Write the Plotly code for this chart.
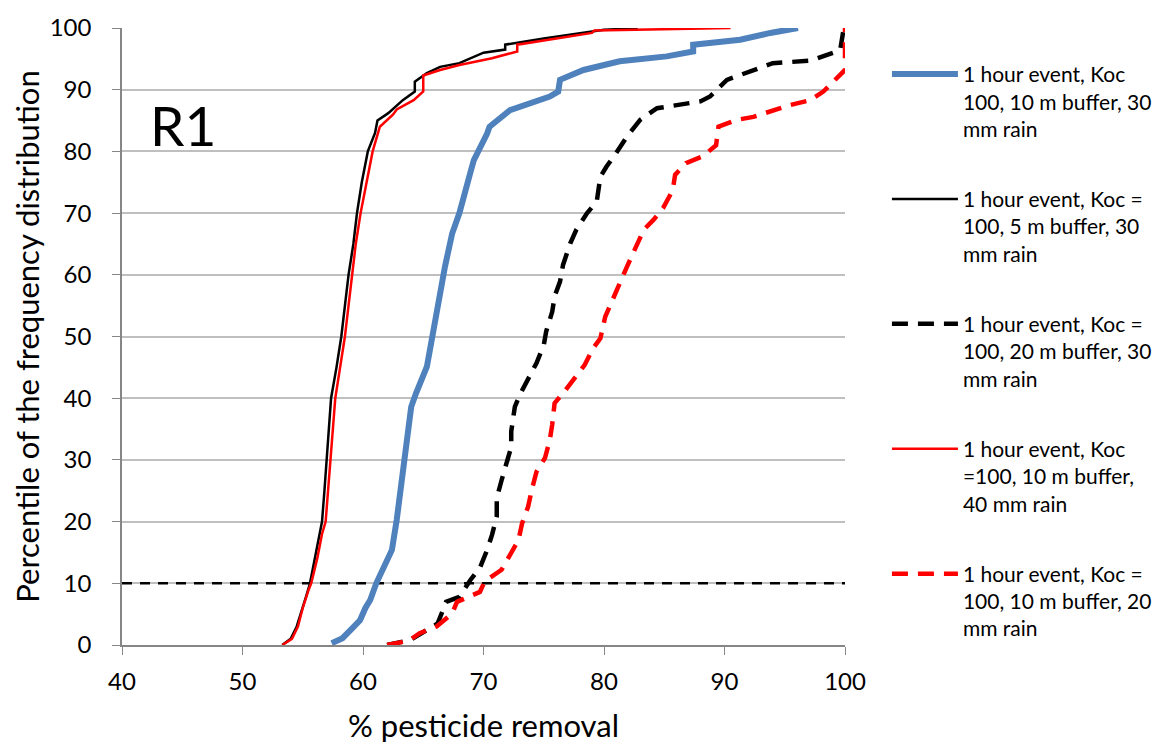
import plotly.graph_objects as go

# ---- data ----
blue_x = [57.4, 58.3, 59.0, 59.75, 60.2, 60.6, 61.1, 61.8, 62.4, 62.8, 63.2, 63.6, 64.0, 64.4, 65.3, 65.8, 66.25, 66.8, 67.4, 68.0, 68.9, 69.2, 70.3, 70.5, 72.2, 75.5, 76.2, 76.35, 78.3, 81.3, 85.2, 87.4, 87.4, 91.3, 93.8, 96.1]
blue_y = [0.3, 1.1, 2.5, 4, 6, 7.3, 10, 13, 15.4, 20.3, 26.2, 31.1, 38.6, 40.8, 45.1, 50.5, 55.9, 61.3, 66.7, 70, 76.5, 78.6, 82.9, 84, 86.7, 88.9, 89.7, 91.6, 93.2, 94.6, 95.4, 96.2, 97.3, 98.1, 99.2, 100]

black_x = [53.3, 54.0, 54.5, 55.0, 55.3, 55.6, 56.0, 56.4, 56.6, 56.8, 57.0, 57.2, 57.35, 57.8, 58.2, 58.5, 58.8, 59.2, 59.5, 59.9, 60.4, 61.0, 61.2, 62.1, 63.3, 64.3, 64.3, 65.3, 66.4, 68.0, 70.0, 71.8, 71.8, 75.0, 78.0, 80.0, 82.8]
black_y = [0, 1, 3, 6, 8, 10, 14, 18, 20, 25, 30, 35, 40, 45, 50, 55, 60, 65, 70, 75, 80, 83, 85, 86.2, 88.3, 89.7, 91.3, 92.7, 93.7, 94.3, 96, 96.5, 97.3, 98.3, 99.2, 99.7, 100]

blackd_x = [62.0, 63.9, 64.5, 66.2, 66.9, 68.0, 68.9, 69.7, 70.3, 70.7, 71.1, 71.1, 71.5, 71.9, 72.3, 72.3, 72.6, 73.0, 73.7, 74.4, 75.0, 75.2, 75.7, 75.9, 76.35, 76.6, 77.2, 77.7, 78.6, 79.4, 79.7, 80.2, 81.0, 81.9, 83.0, 84.4, 88.0, 88.8, 90.2, 92.7, 94.0, 97.1, 98.8, 99.6, 99.9]
blackd_y = [0, 0.8, 1.5, 3.5, 7.0, 7.8, 10.5, 12.5, 15.4, 17.8, 20.8, 23.8, 26.7, 29.2, 32.1, 34.6, 38.6, 40.5, 43.2, 45.7, 48.6, 50.8, 54.0, 56.5, 58.9, 61.6, 65.1, 67.3, 70, 71.9, 75.9, 77.5, 79.7, 82.4, 85.1, 87, 88.1, 88.9, 91.6, 93.4, 94.3, 94.7, 95.9, 96.4, 100]

red_x = [53.3, 54.1, 54.6, 55.0, 55.5, 55.7, 56.2, 56.6, 56.9, 57.1, 57.3, 57.5, 57.7, 58.1, 58.5, 58.8, 59.1, 59.4, 59.8, 60.3, 60.8, 61.4, 62.5, 62.8, 64.2, 65.0, 65.0, 66.4, 68.0, 70.7, 72.8, 72.8, 76.0, 79.0, 79.2, 85.0, 90.5]
red_y = [0, 1, 3, 6, 9, 10, 14, 18, 20, 25, 30, 35, 40, 45, 50, 55, 60, 65, 70, 75, 80, 84, 86, 86.8, 88.3, 89.7, 92.3, 93.2, 94, 95.1, 96.2, 97.3, 98.3, 99.2, 99.6, 99.8, 100]

redd_x = [62.0, 63.8, 64.7, 66.1, 67.4, 67.8, 69.7, 70.1, 71.5, 72.1, 72.9, 73.2, 73.7, 74.0, 74.4, 75.1, 75.5, 75.7, 75.9, 76.6, 77.6, 78.4, 79.1, 79.7, 80.1, 80.6, 81.3, 81.9, 82.6, 83.3, 84.1, 84.9, 85.7, 85.9, 86.8, 88.2, 89.3, 89.5, 91.0, 92.4, 95.4, 97.1, 98.2, 99.0, 100, 100]
redd_y = [0, 0.7, 1.9, 3.0, 5.1, 7.0, 8.6, 10.3, 12.2, 14.3, 17.0, 19.7, 22.4, 25.1, 28.1, 30.3, 33.2, 35.7, 39.2, 40.8, 43.5, 45.4, 48.1, 49.7, 53.2, 55.6, 58.6, 61.3, 64.5, 67.3, 68.9, 70.8, 73.7, 76.2, 78.1, 79.2, 81, 84, 85.1, 85.6, 87.5, 88.3, 89.7, 91.3, 93.2, 100]

ref_x = [40, 100]
ref_y = [10, 10]

names = [
    "1 hour event, Koc<br>100, 10 m buffer, 30<br>mm rain",
    "1 hour event, Koc =<br>100, 5 m buffer, 30<br>mm rain",
    "1 hour event, Koc =<br>100, 20 m buffer, 30<br>mm rain",
    "1 hour event, Koc<br>=100, 10 m buffer,<br>40 mm rain",
    "1 hour event, Koc =<br>100, 10 m buffer, 20<br>mm rain",
]

x_ticks = [40, 50, 60, 70, 80, 90, 100]
y_ticks = [0, 10, 20, 30, 40, 50, 60, 70, 80, 90, 100]

FONT = "Lato"

fig = go.Figure()
fig.add_trace(go.Scatter(x=ref_x, y=ref_y, mode="lines", showlegend=False,
                         line=dict(color="black", width=2.5, dash="10px,8px")))
fig.add_trace(go.Scatter(x=blue_x, y=blue_y, mode="lines", name=names[0], legendgroup="a",
                         line=dict(color="#4F81BD", width=6)))
fig.add_trace(go.Scatter(x=black_x, y=black_y, mode="lines", name=names[1], legendgroup="b",
                         line=dict(color="black", width=2.5)))
fig.add_trace(go.Scatter(x=blackd_x, y=blackd_y, mode="lines", name=names[2], legendgroup="c",
                         line=dict(color="black", width=4.5, dash="16px,10px")))
fig.add_trace(go.Scatter(x=red_x, y=red_y, mode="lines", name=names[3], legendgroup="d",
                         line=dict(color="#FF0000", width=2.5)))
fig.add_trace(go.Scatter(x=redd_x, y=redd_y, mode="lines", name=names[4], legendgroup="e",
                         line=dict(color="#FF0000", width=4.5, dash="16px,10px")))

fig.add_annotation(x=45.1, y=84.3, text="R1", showarrow=False, xref="x", yref="y",
                   font=dict(family=FONT, size=55, color="black"))

fig.update_layout(
    width=1159, height=737,
    margin=dict(l=114, r=322, t=20, b=100, autoexpand=False),
    paper_bgcolor="white", plot_bgcolor="white",
    font=dict(family=FONT, color="black"),
    legend=dict(x=1.058, y=0.958, xanchor="left", yanchor="top",
                font=dict(family=FONT, size=21), traceorder="grouped",
                tracegroupgap=40, valign="top", itemwidth=66,
                bgcolor="rgba(0,0,0,0)"),
)
fig.update_xaxes(range=[40, 100], tickvals=x_ticks, showgrid=False,
                 showline=True, linecolor="#868686", linewidth=1.5,
                 ticks="outside", ticklen=8, tickcolor="#868686",
                 tickfont=dict(size=24), zeroline=False, ticklabelstandoff=6,
                 title=dict(text="% pesticide removal", font=dict(size=31), standoff=22))
fig.update_yaxes(range=[0, 100], tickvals=y_ticks, showgrid=True,
                 gridcolor="#BFBFBF", gridwidth=1.5,
                 showline=True, linecolor="#868686", linewidth=1.5,
                 ticks="outside", ticklen=8, tickcolor="#868686",
                 tickfont=dict(size=24), zeroline=False, ticklabelstandoff=16,
                 title=dict(text="Percentile of the frequency distribution", font=dict(size=31), standoff=12))

fig.write_html("out.html")
